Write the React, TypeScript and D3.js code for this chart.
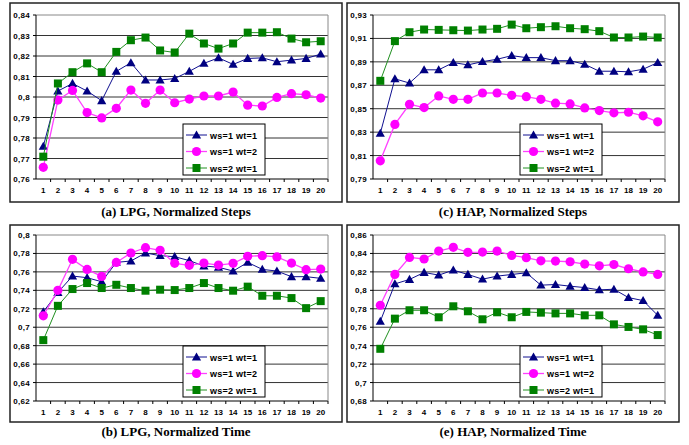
import React from "react";
import * as d3 from "d3";

const runs = d3.range(1, 21);
const seriesNames = ["ws=1 wt=1", "ws=1 wt=2", "ws=2 wt=1"];

// (a) LPG, Normalized Steps
const lpgStepsWs1Wt1 = [0.7759, 0.8029, 0.8066, 0.8029, 0.7982, 0.8125, 0.8167, 0.8083, 0.8083, 0.809, 0.8125, 0.8164, 0.8191, 0.8159, 0.8188, 0.8191, 0.8172, 0.818, 0.8188, 0.8209];
const lpgStepsWs1Wt2 = [0.7657, 0.7985, 0.8032, 0.7924, 0.7898, 0.7945, 0.8034, 0.7969, 0.8034, 0.7972, 0.799, 0.8005, 0.8005, 0.8024, 0.796, 0.7956, 0.7998, 0.8016, 0.8011, 0.7995];
const lpgStepsWs2Wt1 = [0.7709, 0.8066, 0.8121, 0.8164, 0.8121, 0.822, 0.8277, 0.829, 0.8227, 0.8217, 0.8309, 0.8261, 0.8236, 0.8261, 0.8314, 0.8314, 0.8316, 0.8285, 0.8267, 0.8272];
const lpgStepsTicks = [0.76, 0.77, 0.78, 0.79, 0.8, 0.81, 0.82, 0.83, 0.84];

// (c) HAP, Normalized Steps
const hapStepsWs1Wt1 = [0.829, 0.8755, 0.8719, 0.8832, 0.8832, 0.8894, 0.8874, 0.8902, 0.8922, 0.8953, 0.8936, 0.8936, 0.891, 0.891, 0.8879, 0.882, 0.882, 0.8815, 0.8837, 0.8894];
const hapStepsWs1Wt2 = [0.8055, 0.8366, 0.8538, 0.851, 0.8609, 0.858, 0.858, 0.8634, 0.8634, 0.8614, 0.8603, 0.858, 0.8547, 0.8541, 0.8507, 0.8484, 0.8465, 0.847, 0.8439, 0.8388];
const hapStepsWs2Wt1 = [0.8738, 0.9077, 0.9153, 0.9176, 0.9173, 0.917, 0.9167, 0.9176, 0.9182, 0.9218, 0.9187, 0.9196, 0.9204, 0.9187, 0.9179, 0.9162, 0.9108, 0.9108, 0.9116, 0.9108];
const hapStepsTicks = [0.79, 0.81, 0.83, 0.85, 0.87, 0.89, 0.91, 0.93];

// (b) LPG, Normalized Time
const lpgTimeWs1Wt1 = [0.7167, 0.7377, 0.7555, 0.7537, 0.7493, 0.7703, 0.7718, 0.7805, 0.7776, 0.7765, 0.7722, 0.7664, 0.765, 0.7609, 0.7703, 0.7627, 0.7609, 0.7548, 0.7548, 0.753];
const lpgTimeWs1Wt2 = [0.7124, 0.74, 0.7736, 0.7627, 0.7551, 0.7703, 0.7805, 0.7863, 0.7834, 0.7693, 0.7671, 0.7696, 0.7674, 0.7693, 0.7769, 0.7776, 0.7762, 0.7696, 0.7624, 0.7631];
const lpgTimeWs2Wt1 = [0.686, 0.7232, 0.7414, 0.7479, 0.7425, 0.746, 0.7425, 0.7396, 0.7407, 0.7403, 0.7425, 0.7479, 0.7425, 0.7396, 0.744, 0.7341, 0.7341, 0.7316, 0.7207, 0.7283];
const lpgTimeTicks = [0.62, 0.64, 0.66, 0.68, 0.7, 0.72, 0.74, 0.76, 0.78, 0.8];

// (e) HAP, Normalized Time
const hapTimeWs1Wt1 = [0.7664, 0.807, 0.8118, 0.8194, 0.8165, 0.8219, 0.8172, 0.8121, 0.8154, 0.8172, 0.819, 0.8056, 0.8063, 0.8045, 0.803, 0.8005, 0.8012, 0.7921, 0.7889, 0.7729];
const hapTimeWs1Wt2 = [0.7838, 0.8172, 0.8357, 0.834, 0.8426, 0.8466, 0.8412, 0.8415, 0.8426, 0.8379, 0.8354, 0.832, 0.8317, 0.831, 0.8285, 0.8266, 0.828, 0.8234, 0.82, 0.8172];
const hapTimeWs2Wt1 = [0.7366, 0.7693, 0.7784, 0.7784, 0.7708, 0.7827, 0.7773, 0.7686, 0.7762, 0.7708, 0.7766, 0.7758, 0.775, 0.775, 0.7729, 0.7729, 0.7631, 0.7603, 0.7577, 0.7515];
const hapTimeTicks = [0.68, 0.7, 0.72, 0.74, 0.76, 0.78, 0.8, 0.82, 0.84, 0.86];

const colors = ["#000080", "#ff00ff", "#008000"];
const lineColors = ["#101090", "#ff40ff", "#209020"];
const numFont = "'Liberation Sans', Arial, sans-serif";

const fmt = (v: number) => String(+v.toFixed(2)).replace(".", ",");

function Marker({ kind, x, y }: { kind: number; x: number; y: number }) {
  if (kind === 0) {
    const s = 4.6;
    return <path d={`M${x},${y - s}L${x + s},${y + s * 0.75}L${x - s},${y + s * 0.75}Z`} fill={colors[0]} />;
  }
  if (kind === 1) return <circle cx={x} cy={y} r={4.6} fill={colors[1]} />;
  return <rect x={x - 4} y={y - 4} width={8} height={8} fill={colors[2]} />;
}

type PanelProps = {
  bx: number;
  by: number;
  bh: number;
  top: number;
  bottom: number;
  ticks: number[];
  series: number[][];
  title: string;
};

function Panel({ bx, by, bh, top, bottom, ticks, series, title }: PanelProps) {
  const left = bx + 26;
  const right = bx + 318;
  const x = d3.scaleBand<number>().domain(runs).range([left, right]);
  const y = d3.scaleLinear().domain([ticks[0], ticks[ticks.length - 1]]).range([bottom, top]);
  const line = d3
    .line<number>()
    .x((_, i) => x(runs[i])! + x.bandwidth() / 2)
    .y((d) => y(d));
  const lx = bx + 173;
  const ly = by + 121;
  return (
    <g>
      <rect x={bx} y={by} width={332} height={bh} fill="#fff" stroke="#222" strokeWidth={1.5} />
      {ticks.map((t, i) => (
        <g key={t}>
          <line
            x1={left}
            x2={right}
            y1={y(t)}
            y2={y(t)}
            stroke={i === ticks.length - 1 ? "#888" : i === 0 ? "#000" : "#333"}
            strokeWidth={1}
          />
          <line x1={left - 3} x2={left} y1={y(t)} y2={y(t)} stroke="#000" />
          <text
            x={left - 6}
            y={y(t) + 3}
            textAnchor="end"
            fontFamily={numFont}
            fontWeight="bold"
            fontSize={8}
            letterSpacing={0.3}
          >
            {fmt(t)}
          </text>
        </g>
      ))}
      <line x1={right} x2={right} y1={top} y2={bottom} stroke="#888" />
      <line x1={left} x2={left} y1={top} y2={bottom} stroke="#000" />
      {runs.map((r) => (
        <g key={r}>
          <line x1={x(r)! + x.bandwidth()} x2={x(r)! + x.bandwidth()} y1={bottom} y2={bottom + 3} stroke="#000" />
          <text
            x={x(r)! + x.bandwidth() / 2}
            y={bottom + 14}
            textAnchor="middle"
            fontFamily={numFont}
            fontWeight="bold"
            fontSize={8}
          >
            {r}
          </text>
        </g>
      ))}
      {series.map((s, k) => (
        <g key={k}>
          <path d={line(s) || ""} fill="none" stroke={lineColors[k]} strokeWidth={k === 1 ? 1.3 : 1} />
          {s.map((v, i) => (
            <Marker key={i} kind={k} x={x(runs[i])! + x.bandwidth() / 2} y={y(v)} />
          ))}
        </g>
      ))}
      <rect x={lx} y={ly} width={82} height={51} fill="#fff" stroke="#000" strokeWidth={1} />
      {seriesNames.map((n, k) => {
        const yy = ly + 11 + k * 16.5;
        return (
          <g key={n}>
            <line x1={lx + 3} x2={lx + 24} y1={yy} y2={yy} stroke={lineColors[k]} strokeWidth={k === 1 ? 1.3 : 1} />
            <Marker kind={k} x={lx + 13.5} y={yy} />
            <text
              x={lx + 27}
              y={yy + 3.5}
              fontFamily={numFont}
              fontWeight="bold"
              fontSize={9}
              letterSpacing={0.25}
            >
              {n}
            </text>
          </g>
        );
      })}
      <text
        x={bx + 166}
        y={by + bh + 14}
        textAnchor="middle"
        fontFamily="'Liberation Serif', 'Times New Roman', serif"
        fontWeight="bold"
        fontSize={13}
      >
        {title}
      </text>
    </g>
  );
}

export default function App() {
  return (
    <svg width={689} height={445} style={{ position: "absolute", left: 0, top: 0, background: "#fff" }}>
      <Panel
        bx={10}
        by={3}
        bh={199}
        top={15}
        bottom={179}
        ticks={lpgStepsTicks}
        series={[lpgStepsWs1Wt1, lpgStepsWs1Wt2, lpgStepsWs2Wt1]}
        title="(a) LPG, Normalized Steps"
      />
      <Panel
        bx={347}
        by={3}
        bh={199}
        top={15}
        bottom={179}
        ticks={hapStepsTicks}
        series={[hapStepsWs1Wt1, hapStepsWs1Wt2, hapStepsWs2Wt1]}
        title="(c) HAP, Normalized Steps"
      />
      <Panel
        bx={10}
        by={225}
        bh={197}
        top={235}
        bottom={401}
        ticks={lpgTimeTicks}
        series={[lpgTimeWs1Wt1, lpgTimeWs1Wt2, lpgTimeWs2Wt1]}
        title="(b) LPG, Normalized Time"
      />
      <Panel
        bx={347}
        by={225}
        bh={197}
        top={235}
        bottom={401}
        ticks={hapTimeTicks}
        series={[hapTimeWs1Wt1, hapTimeWs1Wt2, hapTimeWs2Wt1]}
        title="(e) HAP, Normalized Time"
      />
    </svg>
  );
}
